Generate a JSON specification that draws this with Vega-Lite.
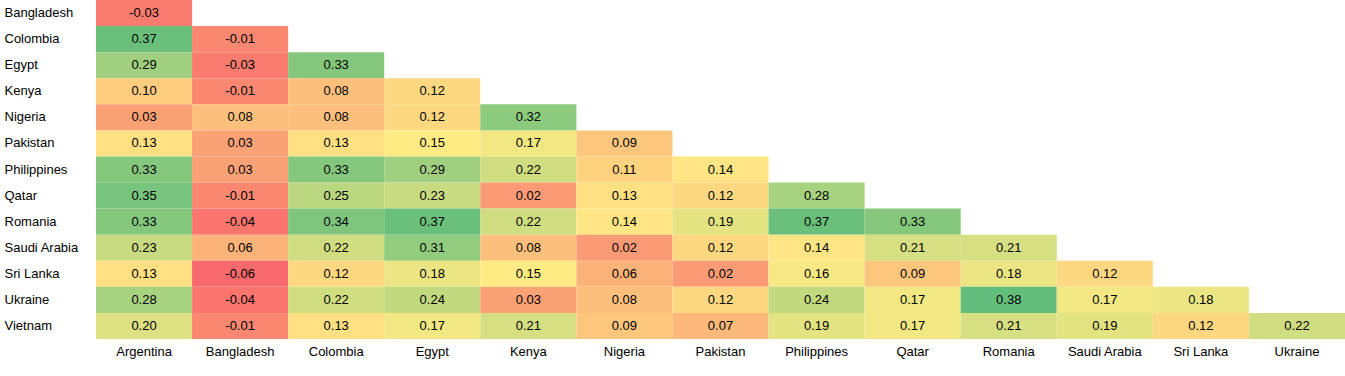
{
  "$schema": "https://vega.github.io/schema/vega-lite/v6.json",
  "autosize": "none",
  "padding": {"left": 96, "top": 0, "right": 0, "bottom": 37},
  "width": 1249,
  "height": 339,
  "background": "white",
  "config": {"view": {"stroke": null}, "font": "Liberation Sans",
    "locale": {"number": {"decimal": ".", "thousands": ",", "grouping": [3], "currency": ["$", ""], "minus": "-"}}},
  "data": {"values": [
    {"row":"Bangladesh","col":"Argentina","v":-0.03},
    {"row":"Colombia","col":"Argentina","v":0.37},{"row":"Colombia","col":"Bangladesh","v":-0.01},
    {"row":"Egypt","col":"Argentina","v":0.29},{"row":"Egypt","col":"Bangladesh","v":-0.03},{"row":"Egypt","col":"Colombia","v":0.33},
    {"row":"Kenya","col":"Argentina","v":0.10},{"row":"Kenya","col":"Bangladesh","v":-0.01},{"row":"Kenya","col":"Colombia","v":0.08},{"row":"Kenya","col":"Egypt","v":0.12},
    {"row":"Nigeria","col":"Argentina","v":0.03},{"row":"Nigeria","col":"Bangladesh","v":0.08},{"row":"Nigeria","col":"Colombia","v":0.08},{"row":"Nigeria","col":"Egypt","v":0.12},{"row":"Nigeria","col":"Kenya","v":0.32},
    {"row":"Pakistan","col":"Argentina","v":0.13},{"row":"Pakistan","col":"Bangladesh","v":0.03},{"row":"Pakistan","col":"Colombia","v":0.13},{"row":"Pakistan","col":"Egypt","v":0.15},{"row":"Pakistan","col":"Kenya","v":0.17},{"row":"Pakistan","col":"Nigeria","v":0.09},
    {"row":"Philippines","col":"Argentina","v":0.33},{"row":"Philippines","col":"Bangladesh","v":0.03},{"row":"Philippines","col":"Colombia","v":0.33},{"row":"Philippines","col":"Egypt","v":0.29},{"row":"Philippines","col":"Kenya","v":0.22},{"row":"Philippines","col":"Nigeria","v":0.11},{"row":"Philippines","col":"Pakistan","v":0.14},
    {"row":"Qatar","col":"Argentina","v":0.35},{"row":"Qatar","col":"Bangladesh","v":-0.01},{"row":"Qatar","col":"Colombia","v":0.25},{"row":"Qatar","col":"Egypt","v":0.23},{"row":"Qatar","col":"Kenya","v":0.02},{"row":"Qatar","col":"Nigeria","v":0.13},{"row":"Qatar","col":"Pakistan","v":0.12},{"row":"Qatar","col":"Philippines","v":0.28},
    {"row":"Romania","col":"Argentina","v":0.33},{"row":"Romania","col":"Bangladesh","v":-0.04},{"row":"Romania","col":"Colombia","v":0.34},{"row":"Romania","col":"Egypt","v":0.37},{"row":"Romania","col":"Kenya","v":0.22},{"row":"Romania","col":"Nigeria","v":0.14},{"row":"Romania","col":"Pakistan","v":0.19},{"row":"Romania","col":"Philippines","v":0.37},{"row":"Romania","col":"Qatar","v":0.33},
    {"row":"Saudi Arabia","col":"Argentina","v":0.23},{"row":"Saudi Arabia","col":"Bangladesh","v":0.06},{"row":"Saudi Arabia","col":"Colombia","v":0.22},{"row":"Saudi Arabia","col":"Egypt","v":0.31},{"row":"Saudi Arabia","col":"Kenya","v":0.08},{"row":"Saudi Arabia","col":"Nigeria","v":0.02},{"row":"Saudi Arabia","col":"Pakistan","v":0.12},{"row":"Saudi Arabia","col":"Philippines","v":0.14},{"row":"Saudi Arabia","col":"Qatar","v":0.21},{"row":"Saudi Arabia","col":"Romania","v":0.21},
    {"row":"Sri Lanka","col":"Argentina","v":0.13},{"row":"Sri Lanka","col":"Bangladesh","v":-0.06},{"row":"Sri Lanka","col":"Colombia","v":0.12},{"row":"Sri Lanka","col":"Egypt","v":0.18},{"row":"Sri Lanka","col":"Kenya","v":0.15},{"row":"Sri Lanka","col":"Nigeria","v":0.06},{"row":"Sri Lanka","col":"Pakistan","v":0.02},{"row":"Sri Lanka","col":"Philippines","v":0.16},{"row":"Sri Lanka","col":"Qatar","v":0.09},{"row":"Sri Lanka","col":"Romania","v":0.18},{"row":"Sri Lanka","col":"Saudi Arabia","v":0.12},
    {"row":"Ukraine","col":"Argentina","v":0.28},{"row":"Ukraine","col":"Bangladesh","v":-0.04},{"row":"Ukraine","col":"Colombia","v":0.22},{"row":"Ukraine","col":"Egypt","v":0.24},{"row":"Ukraine","col":"Kenya","v":0.03},{"row":"Ukraine","col":"Nigeria","v":0.08},{"row":"Ukraine","col":"Pakistan","v":0.12},{"row":"Ukraine","col":"Philippines","v":0.24},{"row":"Ukraine","col":"Qatar","v":0.17},{"row":"Ukraine","col":"Romania","v":0.38},{"row":"Ukraine","col":"Saudi Arabia","v":0.17},{"row":"Ukraine","col":"Sri Lanka","v":0.18},
    {"row":"Vietnam","col":"Argentina","v":0.20},{"row":"Vietnam","col":"Bangladesh","v":-0.01},{"row":"Vietnam","col":"Colombia","v":0.13},{"row":"Vietnam","col":"Egypt","v":0.17},{"row":"Vietnam","col":"Kenya","v":0.21},{"row":"Vietnam","col":"Nigeria","v":0.09},{"row":"Vietnam","col":"Pakistan","v":0.07},{"row":"Vietnam","col":"Philippines","v":0.19},{"row":"Vietnam","col":"Qatar","v":0.17},{"row":"Vietnam","col":"Romania","v":0.21},{"row":"Vietnam","col":"Saudi Arabia","v":0.19},{"row":"Vietnam","col":"Sri Lanka","v":0.12},{"row":"Vietnam","col":"Ukraine","v":0.22}
  ]},
  "encoding": {
    "x": {"field": "col", "type": "nominal",
      "sort": ["Argentina","Bangladesh","Colombia","Egypt","Kenya","Nigeria","Pakistan","Philippines","Qatar","Romania","Saudi Arabia","Sri Lanka","Ukraine"],
      "scale": {"paddingInner": 0, "paddingOuter": 0},
      "axis": {"title": null, "orient": "bottom", "domain": false, "ticks": false, "labelAngle": 0, "labelFont": "Liberation Sans", "labelFontSize": 13, "labelColor": "#000000", "labelPadding": 6}},
    "y": {"field": "row", "type": "nominal",
      "sort": ["Bangladesh","Colombia","Egypt","Kenya","Nigeria","Pakistan","Philippines","Qatar","Romania","Saudi Arabia","Sri Lanka","Ukraine","Vietnam"],
      "scale": {"paddingInner": 0, "paddingOuter": 0},
      "axis": {"title": null, "domain": false, "ticks": false, "labelAlign": "left", "labelPadding": 92, "labelFont": "Liberation Sans", "labelFontSize": 13, "labelColor": "#000000"}}
  },
  "layer": [
    {"mark": {"type": "rect"},
     "encoding": {"color": {"field": "v", "type": "quantitative", "legend": null,
       "scale": {"type": "linear", "domain": [-0.06, 0.15, 0.38], "range": ["#F8696B", "#FFEB84", "#63BE7B"], "interpolate": "rgb"}}}},
    {"mark": {"type": "text", "font": "Liberation Sans", "fontSize": 13, "color": "#000000"},
     "encoding": {"text": {"field": "v", "type": "quantitative", "format": ".2f"}}}
  ]
}
